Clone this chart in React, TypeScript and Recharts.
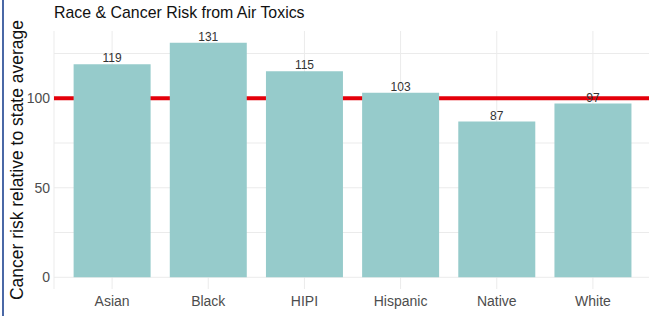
import { BarChart, Bar, XAxis, YAxis, CartesianGrid, ReferenceLine, LabelList } from "recharts"

const groups = ["Asian", "Black", "HIPI", "Hispanic", "Native", "White"]
const risk = [119, 131, 115, 103, 87, 97]
const yTicks = [0, 50, 100]
const gridValues = [0, 25, 50, 75, 100, 125]
const stateAverage = 100

const data = groups.map((g, i) => ({ group: g, risk: risk[i] }))

export default function App() {
  return (
    <div style={{
      position: "absolute",
      left: 0,
      top: 0,
      width: 649,
      height: 316,
      overflow: "hidden",
      background: "#fff",
      fontFamily: "'Liberation Sans', Arial, sans-serif"
    }}>
      <div style={{ position: "absolute", left: 2, top: 0, width: 2, height: 316, background: "#4a68a6" }} />
      <div style={{
        position: "absolute",
        left: 54,
        top: 3,
        fontSize: 17,
        color: "#111",
        whiteSpace: "nowrap",
        transform: "scaleX(0.935)",
        transformOrigin: "left center"
      }}>
        Race &amp; Cancer Risk from Air Toxics
      </div>
      <div style={{
        position: "absolute",
        left: 17,
        top: 160,
        transform: "translate(-50%, -50%) rotate(-90deg)",
        fontSize: 17.5,
        color: "#111",
        whiteSpace: "nowrap"
      }}>
        Cancer risk relative to state average
      </div>

      <BarChart
        width={655}
        height={316}
        data={data}
        margin={{ top: 31, right: 4, bottom: 0, left: 0 }}
        barCategoryGap="10%"
        style={{ position: "absolute", left: 0, top: 0 }}
      >
        <CartesianGrid stroke="#ebebeb" horizontalValues={gridValues} />
        <XAxis
          dataKey="group"
          axisLine={false}
          tickLine={false}
          tickSize={0}
          tickMargin={7}
          height={27}
          padding={{ left: 10, right: 10 }}
          tick={{ fontSize: 14, fill: "#4d4d4d", fontFamily: "'Liberation Sans', Arial, sans-serif" }}
          interval={0}
        />
        <YAxis
          domain={[-6.55, 137.55]}
          ticks={yTicks}
          axisLine={false}
          tickLine={false}
          tickSize={0}
          tickMargin={4}
          width={54}
          allowDataOverflow
          tick={{ fontSize: 14, fill: "#4d4d4d", fontFamily: "'Liberation Sans', Arial, sans-serif" }}
        />
        <ReferenceLine y={stateAverage} stroke="#e4000a" strokeWidth={4} zIndex={250} />
        <Bar dataKey="risk" fill="#96cbcb" isAnimationActive={false}>
          <LabelList
            dataKey="risk"
            position="top"
            offset={2}
            style={{ fontSize: 12, fill: "#333", fontFamily: "'Liberation Sans Narrow', 'Liberation Sans', Arial, sans-serif" }}
          />
        </Bar>
      </BarChart>
    </div>
  )
}
